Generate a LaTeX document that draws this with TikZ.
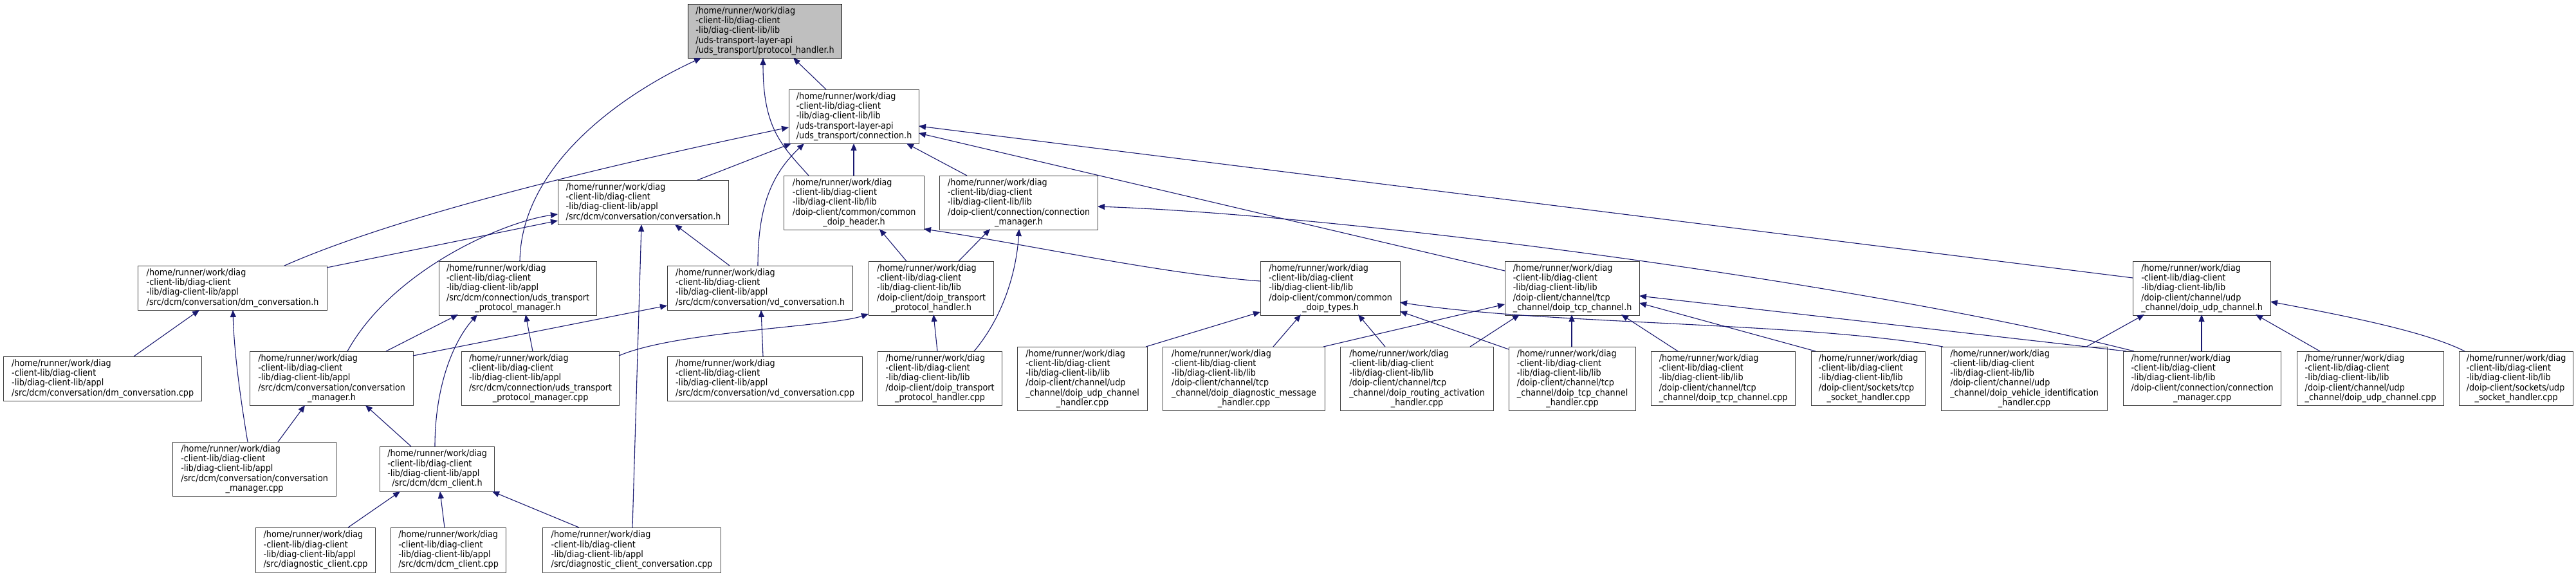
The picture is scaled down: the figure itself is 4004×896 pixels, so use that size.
\documentclass[tikz,border=0pt]{standalone}
\usepackage{fontspec}
\setmainfont{DejaVu Sans}[FakeStretch=0.9]
\usetikzlibrary{arrows.meta,calc}
\definecolor{edgeblue}{HTML}{191970}
\definecolor{boxline}{HTML}{404040}
\definecolor{rootfill}{HTML}{BFBFBF}
\newcommand{\fl}[2]{\begin{tabular}{@{}l@{}}#1\\\multicolumn{1}{@{}c@{}}{#2}\end{tabular}}
\newcommand{\PathA}{/home/runner/work/diag\\-client-lib/diag-client\\-lib/diag-client-lib/appl}
\newcommand{\PathL}{/home/runner/work/diag\\-client-lib/diag-client\\-lib/diag-client-lib/lib}
\tikzset{
 fbox/.style={draw=boxline, line width=0.6pt, fill=white, rectangle, inner sep=0pt, anchor=north west, font=\fontsize{7.1}{7.5}\selectfont},
 dep/.style={draw=edgeblue, line width=0.55pt, {Triangle[length=5.5pt,width=4.5pt]}-},
}
\begin{document}
\begin{tikzpicture}[x=0.5pt,y=-0.5pt]
\fill[white] (0,0) rectangle (4004,896);
\useasboundingbox (0,0) rectangle (4004,896);
% rank 0
\node[fbox, fill=rootfill, draw=black, minimum width=119.5pt, minimum height=42pt] (top) at (1069,6) {\fl{\PathL\\/uds-transport-layer-api}{/uds\_transport/protocol\_handler.h}};
% rank 1
\node[fbox, minimum width=101pt, minimum height=42pt] (conn) at (1226,139) {\fl{\PathL\\/uds-transport-layer-api}{/uds\_transport/connection.h}};
% rank 2
\node[fbox, minimum width=132.5pt, minimum height=34.5pt] (conv) at (867,280) {\fl{\PathA}{/src/dcm/conversation/conversation.h}};
\node[fbox, minimum width=109pt, minimum height=42pt] (cdh) at (1218,273) {\fl{\PathL\\/doip-client/common/common}{\_doip\_header.h}};
\node[fbox, minimum width=123pt, minimum height=42pt] (cmh) at (1460,273) {\fl{\PathL\\/doip-client/connection/connection}{\_manager.h}};
% rank 3
\node[fbox, minimum width=147pt, minimum height=34.5pt] (dmh) at (214,413) {\fl{\PathA}{/src/dcm/conversation/dm\_conversation.h}};
\node[fbox, minimum width=122.5pt, minimum height=42pt] (utpmh) at (682,406) {\fl{\PathA\\/src/dcm/connection/uds\_transport}{\_protocol\_manager.h}};
\node[fbox, minimum width=144pt, minimum height=34.5pt] (vdh) at (1037,413) {\fl{\PathA}{/src/dcm/conversation/vd\_conversation.h}};
\node[fbox, minimum width=97pt, minimum height=42pt] (dtphh) at (1350,406) {\fl{\PathL\\/doip-client/doip\_transport}{\_protocol\_handler.h}};
\node[fbox, minimum width=108.5pt, minimum height=42pt] (cdth) at (1959,406) {\fl{\PathL\\/doip-client/common/common}{\_doip\_types.h}};
\node[fbox, minimum width=104.5pt, minimum height=42pt] (tcph) at (2339,406) {\fl{\PathL\\/doip-client/channel/tcp}{\_channel/doip\_tcp\_channel.h}};
\node[fbox, minimum width=107pt, minimum height=42pt] (udph) at (3315,406) {\fl{\PathL\\/doip-client/channel/udp}{\_channel/doip\_udp\_channel.h}};
% rank 4
\node[fbox, minimum width=154pt, minimum height=34.5pt] (dmcpp) at (5,554) {\fl{\PathA}{/src/dcm/conversation/dm\_conversation.cpp}};
\node[fbox, minimum width=127pt, minimum height=42pt] (cmgrh) at (388,546) {\fl{\PathA\\/src/dcm/conversation/conversation}{\_manager.h}};
\node[fbox, minimum width=122.5pt, minimum height=42pt] (utpmcpp) at (717,546) {\fl{\PathA\\/src/dcm/connection/uds\_transport}{\_protocol\_manager.cpp}};
\node[fbox, minimum width=151.5pt, minimum height=34.5pt] (vdcpp) at (1037,554) {\fl{\PathA}{/src/dcm/conversation/vd\_conversation.cpp}};
\node[fbox, minimum width=96.5pt, minimum height=42pt] (dtphcpp) at (1364,546) {\fl{\PathL\\/doip-client/doip\_transport}{\_protocol\_handler.cpp}};
\node[fbox, minimum width=101pt, minimum height=49.5pt] (udpch) at (1581,539) {\fl{\PathL\\/doip-client/channel/udp\\\_channel/doip\_udp\_channel}{\_handler.cpp}};
\node[fbox, minimum width=126pt, minimum height=49.5pt] (dmhcpp) at (1807,539) {\fl{\PathL\\/doip-client/channel/tcp\\\_channel/doip\_diagnostic\_message}{\_handler.cpp}};
\node[fbox, minimum width=119pt, minimum height=49.5pt] (rah) at (2083,539) {\fl{\PathL\\/doip-client/channel/tcp\\\_channel/doip\_routing\_activation}{\_handler.cpp}};
\node[fbox, minimum width=98.5pt, minimum height=49.5pt] (tcpch) at (2345,539) {\fl{\PathL\\/doip-client/channel/tcp\\\_channel/doip\_tcp\_channel}{\_handler.cpp}};
\node[fbox, minimum width=112pt, minimum height=42pt] (tcpcpp) at (2566,546) {\fl{\PathL\\/doip-client/channel/tcp}{\_channel/doip\_tcp\_channel.cpp}};
\node[fbox, minimum width=88.5pt, minimum height=42pt] (tcpsock) at (2815,546) {\fl{\PathL\\/doip-client/sockets/tcp}{\_socket\_handler.cpp}};
\node[fbox, minimum width=129pt, minimum height=49.5pt] (vih) at (3017,539) {\fl{\PathL\\/doip-client/channel/udp\\\_channel/doip\_vehicle\_identification}{\_handler.cpp}};
\node[fbox, minimum width=122.5pt, minimum height=42pt] (cmcpp) at (3300,546) {\fl{\PathL\\/doip-client/connection/connection}{\_manager.cpp}};
\node[fbox, minimum width=114pt, minimum height=42pt] (udpcpp) at (3570,546) {\fl{\PathL\\/doip-client/channel/udp}{\_channel/doip\_udp\_channel.cpp}};
\node[fbox, minimum width=88.5pt, minimum height=42pt] (udpsock) at (3822,546) {\fl{\PathL\\/doip-client/sockets/udp}{\_socket\_handler.cpp}};
% rank 5
\node[fbox, minimum width=127pt, minimum height=42pt] (cmgrcpp) at (268,687) {\fl{\PathA\\/src/dcm/conversation/conversation}{\_manager.cpp}};
\node[fbox, minimum width=89pt, minimum height=35pt] (dcmh) at (590,694) {\fl{\PathA}{/src/dcm/dcm\_client.h}};
% rank 6
\node[fbox, minimum width=93pt, minimum height=35pt] (dccpp) at (397,820) {\fl{\PathA}{/src/diagnostic\_client.cpp}};
\node[fbox, minimum width=89.5pt, minimum height=35pt] (dcmcpp) at (607,820) {\fl{\PathA}{/src/dcm/dcm\_client.cpp}};
\node[fbox, minimum width=138.5pt, minimum height=35pt] (dccconv) at (843,820) {\fl{\PathA}{/src/diagnostic\_client\_conversation.cpp}};
% edges
\draw[dep] ($(top.north west)+(164,84)$) -- ($(conn.north west)+(58,0)$);
\draw[dep] ($(top.north west)+(117,84)$) .. controls +(0,110) and +(-42,-47) .. ($(cdh.north west)+(39,0)$);
\draw[dep] ($(top.north west)+(21,84)$) .. controls +(-130,60) and +(2,-146) .. ($(utpmh.north west)+(126,0)$);
\draw[dep] ($(conn.north west)+(0,59)$) .. controls +(-176,37) and +(208,-92) .. ($(dmh.north west)+(228,0)$);
\draw[dep] ($(conn.north west)+(4,84)$) -- ($(conv.north west)+(217,0)$);
\draw[dep] ($(conn.north west)+(24,84)$) .. controls +(-50,47) and +(0,-93) .. ($(vdh.north west)+(141,0)$);
\draw[dep] ($(conn.north west)+(101,84)$) -- ($(cdh.north west)+(109,0)$);
\draw[dep] ($(conn.north west)+(202,57)$) -- ($(udph.north west)+(0,26)$);
\draw[dep] ($(conn.north west)+(202,68)$) -- ($(tcph.north west)+(0,15)$);
\draw[dep] ($(conn.north west)+(183,84)$) -- ($(cmh.north west)+(43,0)$);
\draw[dep] ($(conv.north west)+(0,63)$) -- ($(dmh.north west)+(294,3)$);
\draw[dep] ($(conv.north west)+(0,53)$) .. controls +(-86,12) and +(70,-126) .. ($(cmgrh.north west)+(152,0)$);
\draw[dep] ($(conv.north west)+(130,69)$) -- ($(dccconv.north west)+(140,0)$);
\draw[dep] ($(conv.north west)+(182,69)$) -- ($(vdh.north west)+(97,0)$);
\draw[dep] ($(dmh.north west)+(96,69)$) -- ($(dmcpp.north west)+(203,0)$);
\draw[dep] ($(dmh.north west)+(148,69)$) .. controls +(2,70) and +(-10,-60) .. ($(cmgrcpp.north west)+(117,0)$);
\draw[dep] ($(utpmh.north west)+(30,83)$) -- ($(cmgrh.north west)+(212,0)$);
\draw[dep] ($(utpmh.north west)+(60,83)$) .. controls +(-37,41) and +(0,-94) .. ($(dcmh.north west)+(86,0)$);
\draw[dep] ($(utpmh.north west)+(135,83)$) -- ($(utpmcpp.north west)+(111,0)$);
\draw[dep] ($(vdh.north west)+(0,62)$) -- ($(cmgrh.north west)+(254,7)$);
\draw[dep] ($(vdh.north west)+(146,69)$) -- ($(vdcpp.north west)+(149,0)$);
\draw[dep] ($(dtphh.north west)+(0,82)$) .. controls +(-60,20) and +(88,-38) .. ($(utpmcpp.north west)+(245,7)$);
\draw[dep] ($(cdh.north west)+(149,83)$) -- ($(dtphh.north west)+(59,0)$);
\draw[dep] ($(cmh.north west)+(79,83)$) -- ($(dtphh.north west)+(140,0)$);
\draw[dep] ($(cmh.north west)+(124,83)$) .. controls +(-4,64) and +(47,-56) .. ($(dtphcpp.north west)+(150,0)$);
\draw[dep] ($(dtphh.north west)+(101,83)$) -- ($(dtphcpp.north west)+(93,0)$);
\draw[dep] ($(cdh.north west)+(218,83)$) .. controls +(164,24) and +(-159,-12) .. ($(cdth.north west)+(0,31)$);
\draw[dep] ($(cmh.north west)+(246,48)$) .. controls +(394,14) and +(-417,-106) .. ($(cmcpp.north west)+(17,0)$);
\draw[dep] ($(cdth.north west)+(0,79)$) -- ($(udpch.north west)+(200,0)$);
\draw[dep] ($(cdth.north west)+(63,83)$) -- ($(dmhcpp.north west)+(172,0)$);
\draw[dep] ($(cdth.north west)+(152,83)$) -- ($(rah.north west)+(70,0)$);
\draw[dep] ($(cdth.north west)+(217,78)$) -- ($(tcpch.north west)+(0,4)$);
\draw[dep] ($(cdth.north west)+(217,64)$) .. controls +(224,35) and +(-220,-39) .. ($(vih.north west)+(3,0)$);
\draw[dep] ($(tcph.north west)+(0,67)$) -- ($(dmhcpp.north west)+(250,0)$);
\draw[dep] ($(tcph.north west)+(23,83)$) -- ($(rah.north west)+(202,0)$);
\draw[dep] ($(tcph.north west)+(104,83)$) -- ($(tcpch.north west)+(98,0)$);
\draw[dep] ($(tcph.north west)+(181,83)$) -- ($(tcpcpp.north west)+(42,0)$);
\draw[dep] ($(tcph.north west)+(209,54)$) -- ($(cmcpp.north west)+(5,0)$);
\draw[dep] ($(tcph.north west)+(209,65)$) -- ($(tcpsock.north west)+(7,0)$);
\draw[dep] ($(udph.north west)+(18,83)$) -- ($(vih.north west)+(226,0)$);
\draw[dep] ($(udph.north west)+(107,83)$) -- ($(cmcpp.north west)+(122,0)$);
\draw[dep] ($(udph.north west)+(191,83)$) -- ($(udpcpp.north west)+(36,0)$);
\draw[dep] ($(udph.north west)+(214,63)$) .. controls +(111,21) and +(-61,-31) .. ($(udpsock.north west)+(9,0)$);
\draw[dep] ($(cmgrh.north west)+(86,84)$) -- ($(cmgrcpp.north west)+(164,0)$);
\draw[dep] ($(cmgrh.north west)+(180,84)$) -- ($(dcmh.north west)+(49,0)$);
\draw[dep] ($(dcmh.north west)+(32,70)$) -- ($(dccpp.north west)+(144,0)$);
\draw[dep] ($(dcmh.north west)+(94,70)$) -- ($(dcmcpp.north west)+(84,0)$);
\draw[dep] ($(dcmh.north west)+(175,70)$) -- ($(dccconv.north west)+(57,0)$);
\end{tikzpicture}
\end{document}
